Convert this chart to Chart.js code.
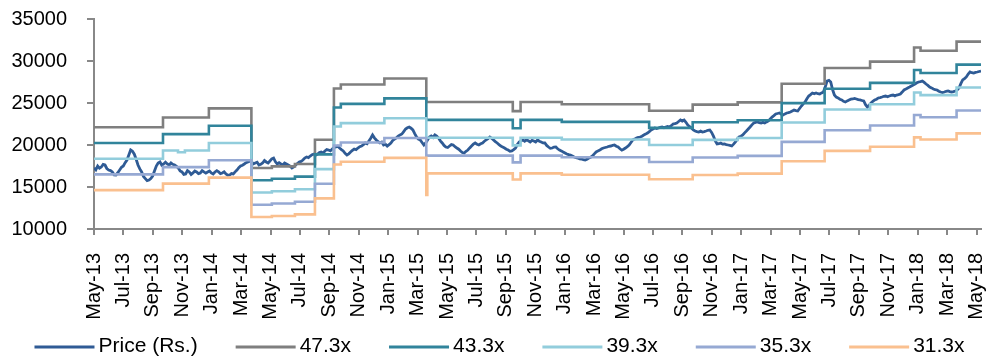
<!DOCTYPE html>
<html>
<head>
<meta charset="utf-8">
<script src="https://cdn.jsdelivr.net/npm/chart.js@4.4.1/dist/chart.umd.min.js"></script>
<style>
  html, body { margin: 0; padding: 0; background: #fff; }
  #wrap { width: 999px; height: 361px; }
</style>
</head>
<body>
<div id="wrap"><canvas id="c" width="999" height="361"></canvas></div>
<script>
// Horizontal positions are months counted from May 2013.
const tickLabels = ['May-13','Jul-13','Sep-13','Nov-13','Jan-14','Mar-14','May-14','Jul-14','Sep-14','Nov-14',
  'Jan-15','Mar-15','May-15','Jul-15','Sep-15','Nov-15','Jan-16','Mar-16','May-16','Jul-16',
  'Sep-16','Nov-16','Jan-17','Mar-17','May-17','Jul-17','Sep-17','Nov-17','Jan-18','Mar-18','May-18'];

const spanMonths = 60.3;

// Share price (Rs.), about two readings a week
const price = [
  17260, 17050, 17500, 17250, 17380, 17700, 17620, 17200, 17020, 16950,
  16790, 16450, 16430, 16700, 17020, 17350, 17500, 17900, 18210, 18800,
  19400, 19250, 18900, 18300, 17620, 17150, 16790, 16250, 16000, 15750,
  15830, 16000, 16300, 16900, 17500, 17850, 17980, 17600, 17740, 17950,
  17740, 17600, 17860, 17700, 17620, 17450, 17260, 16900, 16790, 16500,
  16550, 16950, 16790, 16500, 16670, 16900, 16790, 16600, 16670, 16950,
  16790, 16650, 16790, 16900, 16670, 16550, 16790, 16950, 16790, 16600,
  16670, 16800, 16550, 16400, 16430, 16600, 16550, 16800, 17020, 17300,
  17500, 17600, 17740, 17900, 17980, 18100,
  17980, 17750, 17860, 17950, 17620, 17700, 17860, 18150, 17980, 17850,
  18100, 18350, 18450, 18000, 17740, 17900, 17740, 17600, 17860, 17750,
  17620, 17500, 17260, 17400, 17620, 17800, 17980, 18050, 18210, 18450,
  18570, 18500, 18690, 18850, 18930, 18800, 18930, 19100, 19170, 19050,
  19290, 19450, 19400, 19300, 19520, 19700, 19760, 19850, 19640, 19450,
  19290, 19000, 18810, 18950, 19170, 19350, 19520, 19450, 19640, 19800,
  19880, 20050, 20240, 20150, 20480, 20800, 21190, 20850, 20600, 20400,
  20240, 20350, 20000, 20100, 19880, 20050, 20240, 20550, 20710, 20850,
  21070, 21200, 21310, 21600, 21900, 22050, 22140, 22000, 21790, 21350,
  20950, 20700, 20600, 20300, 20000, 20250,
  20600, 20950, 21070, 20900, 21190, 21050, 20830, 20500, 20240, 19950,
  19760, 19700, 19880, 20050, 20000, 19800, 19640, 19500, 19290, 19100,
  19050, 19250, 19400, 19650, 19880, 20100, 20240, 20100, 20000, 20150,
  20240, 20450, 20600, 20750, 20950, 20800, 20600, 20400, 20240, 20050,
  19880, 19750, 19640, 19500, 19400, 19250, 19290, 19450, 19640, 20050,
  20360, 20500, 20600, 20450, 20600, 20500, 20360, 20550, 20480, 20350,
  20600, 20450, 20360, 20250, 20240, 19950, 19760, 19600, 19640, 19750,
  19760, 19550, 19400, 19300, 19170, 19050, 18930, 18850, 18810, 18700,
  18570, 18500, 18450, 18350, 18330, 18250, 18210, 18300, 18450, 18550,
  18690, 18950, 19170, 19300, 19400, 19550, 19640, 19700, 19760, 19850,
  19880, 19950, 20000, 19850, 19760, 19550, 19400, 19500, 19640, 19800,
  20000, 20300, 20600, 20700, 20830, 20900, 20950, 21050, 21190, 21300,
  21430, 21600, 21790, 21900, 22020, 21950, 22020, 22100, 22140, 22050,
  22140, 22200, 22140, 22300,
  22500, 22550, 22620, 22800, 22980, 22850, 22980, 22700, 22380, 22200,
  22020, 21800, 21670, 21600, 21550, 21650, 21550, 21600, 21670, 21750,
  21790, 21500, 21070, 20500, 20120, 20150, 20240, 20100, 20120, 20050,
  20000, 19950, 19880, 20100, 20360, 20700, 20950, 21050, 21190, 21450,
  21670, 21900, 22140, 22400, 22620, 22700, 22740, 22650, 22620, 22700,
  22620, 22750, 22860, 23100, 23330, 23500, 23690, 23750, 23810, 23650,
  23570, 23700, 23810, 23850, 23930, 24050, 24170, 24100, 24050, 24350,
  24640, 24900, 25120, 25500, 25830, 26000, 26190, 26100, 26190, 26100,
  26070, 26200, 26310, 26900, 27620, 27700, 27500, 26600, 25950, 25700,
  25600, 25450, 25360, 25200, 25120, 25250, 25360, 25450, 25480, 25550,
  25480, 25400, 25360, 25300, 25240, 24800, 24520, 24750, 25000, 25200,
  25360, 25450, 25600, 25650, 25710, 25800, 25830, 25750, 25830, 25900,
  25950, 25850, 25950, 26000, 26070, 26300, 26550, 26650, 26790, 26900,
  27020, 27150, 27260, 27400, 27500, 27550, 27620, 27450, 27260, 27100,
  26910, 26800, 26670, 26600, 26550, 26400, 26310, 26250, 26310, 26400,
  26430, 26350, 26310, 26350, 26430, 26550, 26790, 27300, 27740, 27900,
  28100, 28450, 28690, 28600, 28570, 28650, 28690, 28750, 28810
];

// Months at which the P/E band levels change
const bandSteps = [0, 4.69, 5.71, 6.18, 7.81, 10.70, 12.09, 13.66, 15.02, 16.31,
  16.78, 19.74, 22.59, 22.66, 28.47, 29.0, 31.80, 37.74, 40.70, 43.76,
  46.75, 49.67, 52.76, 55.75, 56.19, 58.64, 60.3];

const band473 = [22110, 23270, 23270, 23270, 24360, 17260, 17450, 17740, 20620, 26720,
  27200, 27910, 25120, 25120, 24030, 25120, 24860, 24080, 24810, 25070,
  27290, 29160, 29920, 31600, 31220, 32310, 32310];
const band433 = [20240, 21300, 21300, 21300, 22300, 15800, 15980, 16240, 18880, 24460,
  24900, 25550, 22990, 22990, 22000, 22990, 22750, 22040, 22710, 22950,
  24980, 26690, 27390, 28920, 28580, 29570, 29570];
const band393 = [18370, 19340, 19140, 19340, 20240, 14340, 14500, 14740, 17130, 22200,
  22600, 23190, 20870, 20870, 19960, 20870, 20650, 20000, 20610, 20830,
  22680, 24230, 24860, 26250, 25940, 26840, 26840];
const band353 = [16500, 17370, 17370, 17370, 18180, 12880, 13030, 13240, 15390, 19940,
  20300, 20830, 18740, 18740, 17930, 18740, 18550, 17970, 18510, 18710,
  20370, 21760, 22330, 23580, 23300, 24110, 24110];
const band313 = [14630, 15400, 15400, 15400, 16120, 11420, 11550, 11740, 13650, 17680,
  18000, 18470, 14050, 16620, 15900, 16620, 16450, 15930, 16420, 16590,
  18060, 19300, 19800, 20910, 20660, 21380, 21380];

const seriesNames = ['Price (Rs.)', '47.3x', '43.3x', '39.3x', '35.3x', '31.3x'];
const seriesColors = ['#2F5B95', '#7F7F7F', '#31849B', '#92CDDC', '#96A9D3', '#FAC08F'];

const FONT = "'Liberation Sans', Arial, sans-serif";
const AXIS = '#888888';

const pricePoints = price.map((v, i) => ({ x: i * spanMonths / (price.length - 1), y: v }));
const stepPoints = levels => levels.map((v, i) => ({ x: bandSteps[i], y: v }));

const bands = [band473, band433, band393, band353, band313];

const datasets = [{
  label: seriesNames[0],
  data: pricePoints,
  borderColor: seriesColors[0],
  backgroundColor: seriesColors[0],
  borderWidth: 2.8,
  pointRadius: 0,
  order: 6
}].concat(bands.map((b, k) => ({
  label: seriesNames[k + 1],
  data: stepPoints(b),
  borderColor: seriesColors[k + 1],
  backgroundColor: seriesColors[k + 1],
  borderWidth: 2.6,
  pointRadius: 0,
  stepped: 'before',
  order: 5 - k
})));

// One-row legend under the axis: a short line sample followed by the series name
const rowLegend = {
  id: 'rowLegend',
  afterDraw(chart) {
    const ctx = chart.ctx;
    const lineLen = 60, gap = 4, itemGap = 38, y = 346;
    ctx.save();
    ctx.font = '21px ' + FONT;
    const widths = chart.data.datasets.map(d => lineLen + gap + ctx.measureText(d.label).width);
    const total = widths.reduce((a, b) => a + b, 0) + itemGap * (widths.length - 1);
    let x = (chart.width - total) / 2;
    chart.data.datasets.forEach((d, i) => {
      ctx.strokeStyle = d.borderColor;
      ctx.lineWidth = 3;
      ctx.beginPath();
      ctx.moveTo(x, y + 1);
      ctx.lineTo(x + lineLen, y + 1);
      ctx.stroke();
      ctx.fillStyle = '#000';
      ctx.textAlign = 'left';
      ctx.textBaseline = 'middle';
      ctx.fillText(d.label, x + lineLen + gap, y);
      x += widths[i] + itemGap;
    });
    ctx.restore();
  }
};

new Chart(document.getElementById('c'), {
  type: 'line',
  data: { datasets },
  plugins: [rowLegend],
  options: {
    responsive: false,
    animation: false,
    devicePixelRatio: 1,
    layout: { padding: { top: 19, right: 18, bottom: 22, left: 0 } },
    plugins: {
      tooltip: { enabled: false },
      legend: { display: false }
    },
    scales: {
      x: {
        type: 'linear',
        min: 0,
        max: spanMonths,
        afterBuildTicks: s => { s.ticks = tickLabels.map((_, i) => ({ value: i * 2 })); },
        afterFit: s => { s.height = 110; s.paddingLeft = 0; s.paddingRight = 0; },
        ticks: {
          autoSkip: false,
          minRotation: 90,
          maxRotation: 90,
          padding: 18,
          color: '#000',
          font: { family: FONT, size: 20 },
          callback: v => tickLabels[Math.round(v / 2)]
        },
        grid: { drawOnChartArea: false, drawTicks: true, tickLength: 6, color: AXIS, lineWidth: 2 },
        border: { display: true, color: AXIS, width: 2 }
      },
      y: {
        min: 10000,
        max: 35000,
        afterFit: s => { s.width = 94; s.paddingTop = 0; s.paddingBottom = 0; },
        ticks: {
          stepSize: 5000,
          padding: 20,
          color: '#000',
          font: { family: FONT, size: 20 },
          callback: v => String(v)
        },
        grid: { drawOnChartArea: false, drawTicks: true, tickLength: 7, color: AXIS, lineWidth: 2 },
        border: { display: true, color: AXIS, width: 2 }
      }
    }
  }
});
</script>
</body>
</html>
